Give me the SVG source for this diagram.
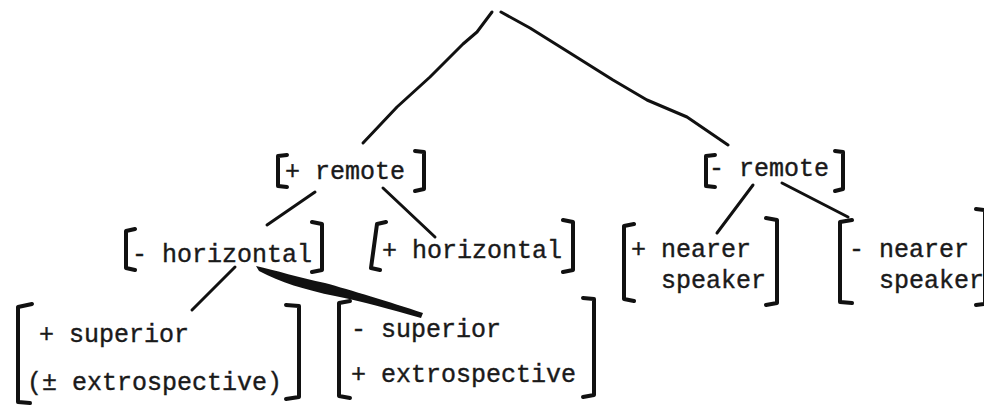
<svg xmlns="http://www.w3.org/2000/svg" width="984" height="406" viewBox="0 0 984 406">
<style>
.t{font-family:"Liberation Mono","Courier New",monospace;font-size:25px;fill:#1a1a1a;stroke:#1a1a1a;stroke-width:0.4}
.b{fill:none;stroke:#111;stroke-width:4;stroke-linecap:round;stroke-linejoin:round}
.c{fill:none;stroke:#111;stroke-width:3;stroke-linecap:round;stroke-linejoin:round}
</style>
<rect width="984" height="406" fill="#fff"/>
<g id="connectors">
<polyline class="c" points="492,12 477,32 463,44 430,77 397,107 363,143"/>
<polyline class="c" points="501,12 530,28 570,53 613,80 647,100 687,117 728,145"/>
<line class="c" x1="315" y1="192" x2="267" y2="225"/>
<line class="c" x1="383" y1="188" x2="435" y2="237"/>
<line class="c" x1="235" y1="267" x2="192" y2="310"/>
<path d="M256,266 C275,270 300,278 325,283 C350,290 390,302 423,313 L421,318 C390,309 360,301 335,296 C305,290 280,282 259,271 Z" fill="#111"/>
<line class="c" x1="753" y1="185" x2="717" y2="233"/>
<line class="c" x1="782" y1="183" x2="848" y2="217"/>
</g>
<g id="plus-remote">
<path class="b" d="M287,155 L278,156 L278,186 L287,187"/>
<path class="b" d="M415,151 L424,152 L424,189 L415,191"/>
<text class="t" x="285" y="179">+ remote</text>
</g>
<g id="minus-remote">
<path class="b" d="M715,155 L706,156 L706,186 L715,187"/>
<path class="b" d="M835,151 L843,152 L843,189 L835,191"/>
<text class="t" x="709" y="176">- remote</text>
</g>
<g id="minus-horizontal">
<path class="b" d="M135,229 L126,231 L126,268 L135,270"/>
<path class="b" d="M312,222 L322,224 L322,270 L312,272"/>
<text class="t" x="132" y="262">- horizontal</text>
</g>
<g id="plus-horizontal">
<path class="b" d="M386,222 L377,224 L371,268 L380,270"/>
<path class="b" d="M563,220 L573,222 L573,270 L563,272"/>
<text class="t" x="382" y="258">+ horizontal</text>
</g>
<g id="plus-nearer-speaker">
<path class="b" d="M634,224 L624,226 L624,299 L634,301"/>
<path class="b" d="M766,218 L777,220 L777,303 L766,305"/>
<text class="t" x="631" y="257">+ nearer</text>
<text class="t" x="661" y="288">speaker</text>
</g>
<g id="minus-nearer-speaker">
<path class="b" d="M852,220 L840,222 L840,302 L852,303"/>
<path class="b" d="M976,209 L985,210 L985,304 L976,305"/>
<text class="t" x="849" y="257">- nearer</text>
<text class="t" x="879" y="288">speaker</text>
</g>
<g id="plus-superior">
<path class="b" d="M32,304 L18,307 L18,402 L30,403"/>
<path class="b" d="M286,305 L299,306 L299,397 L286,399"/>
<text class="t" x="39" y="342">+ superior</text>
<text class="t" x="27" y="390">(± extrospective)</text>
</g>
<g id="minus-superior">
<path class="b" d="M350,301 L339,303 L339,396 L350,398"/>
<path class="b" d="M583,298 L594,299 L594,395 L583,397"/>
<text class="t" x="351" y="337">- superior</text>
<text class="t" x="351" y="382">+ extrospective</text>
</g>
</svg>
